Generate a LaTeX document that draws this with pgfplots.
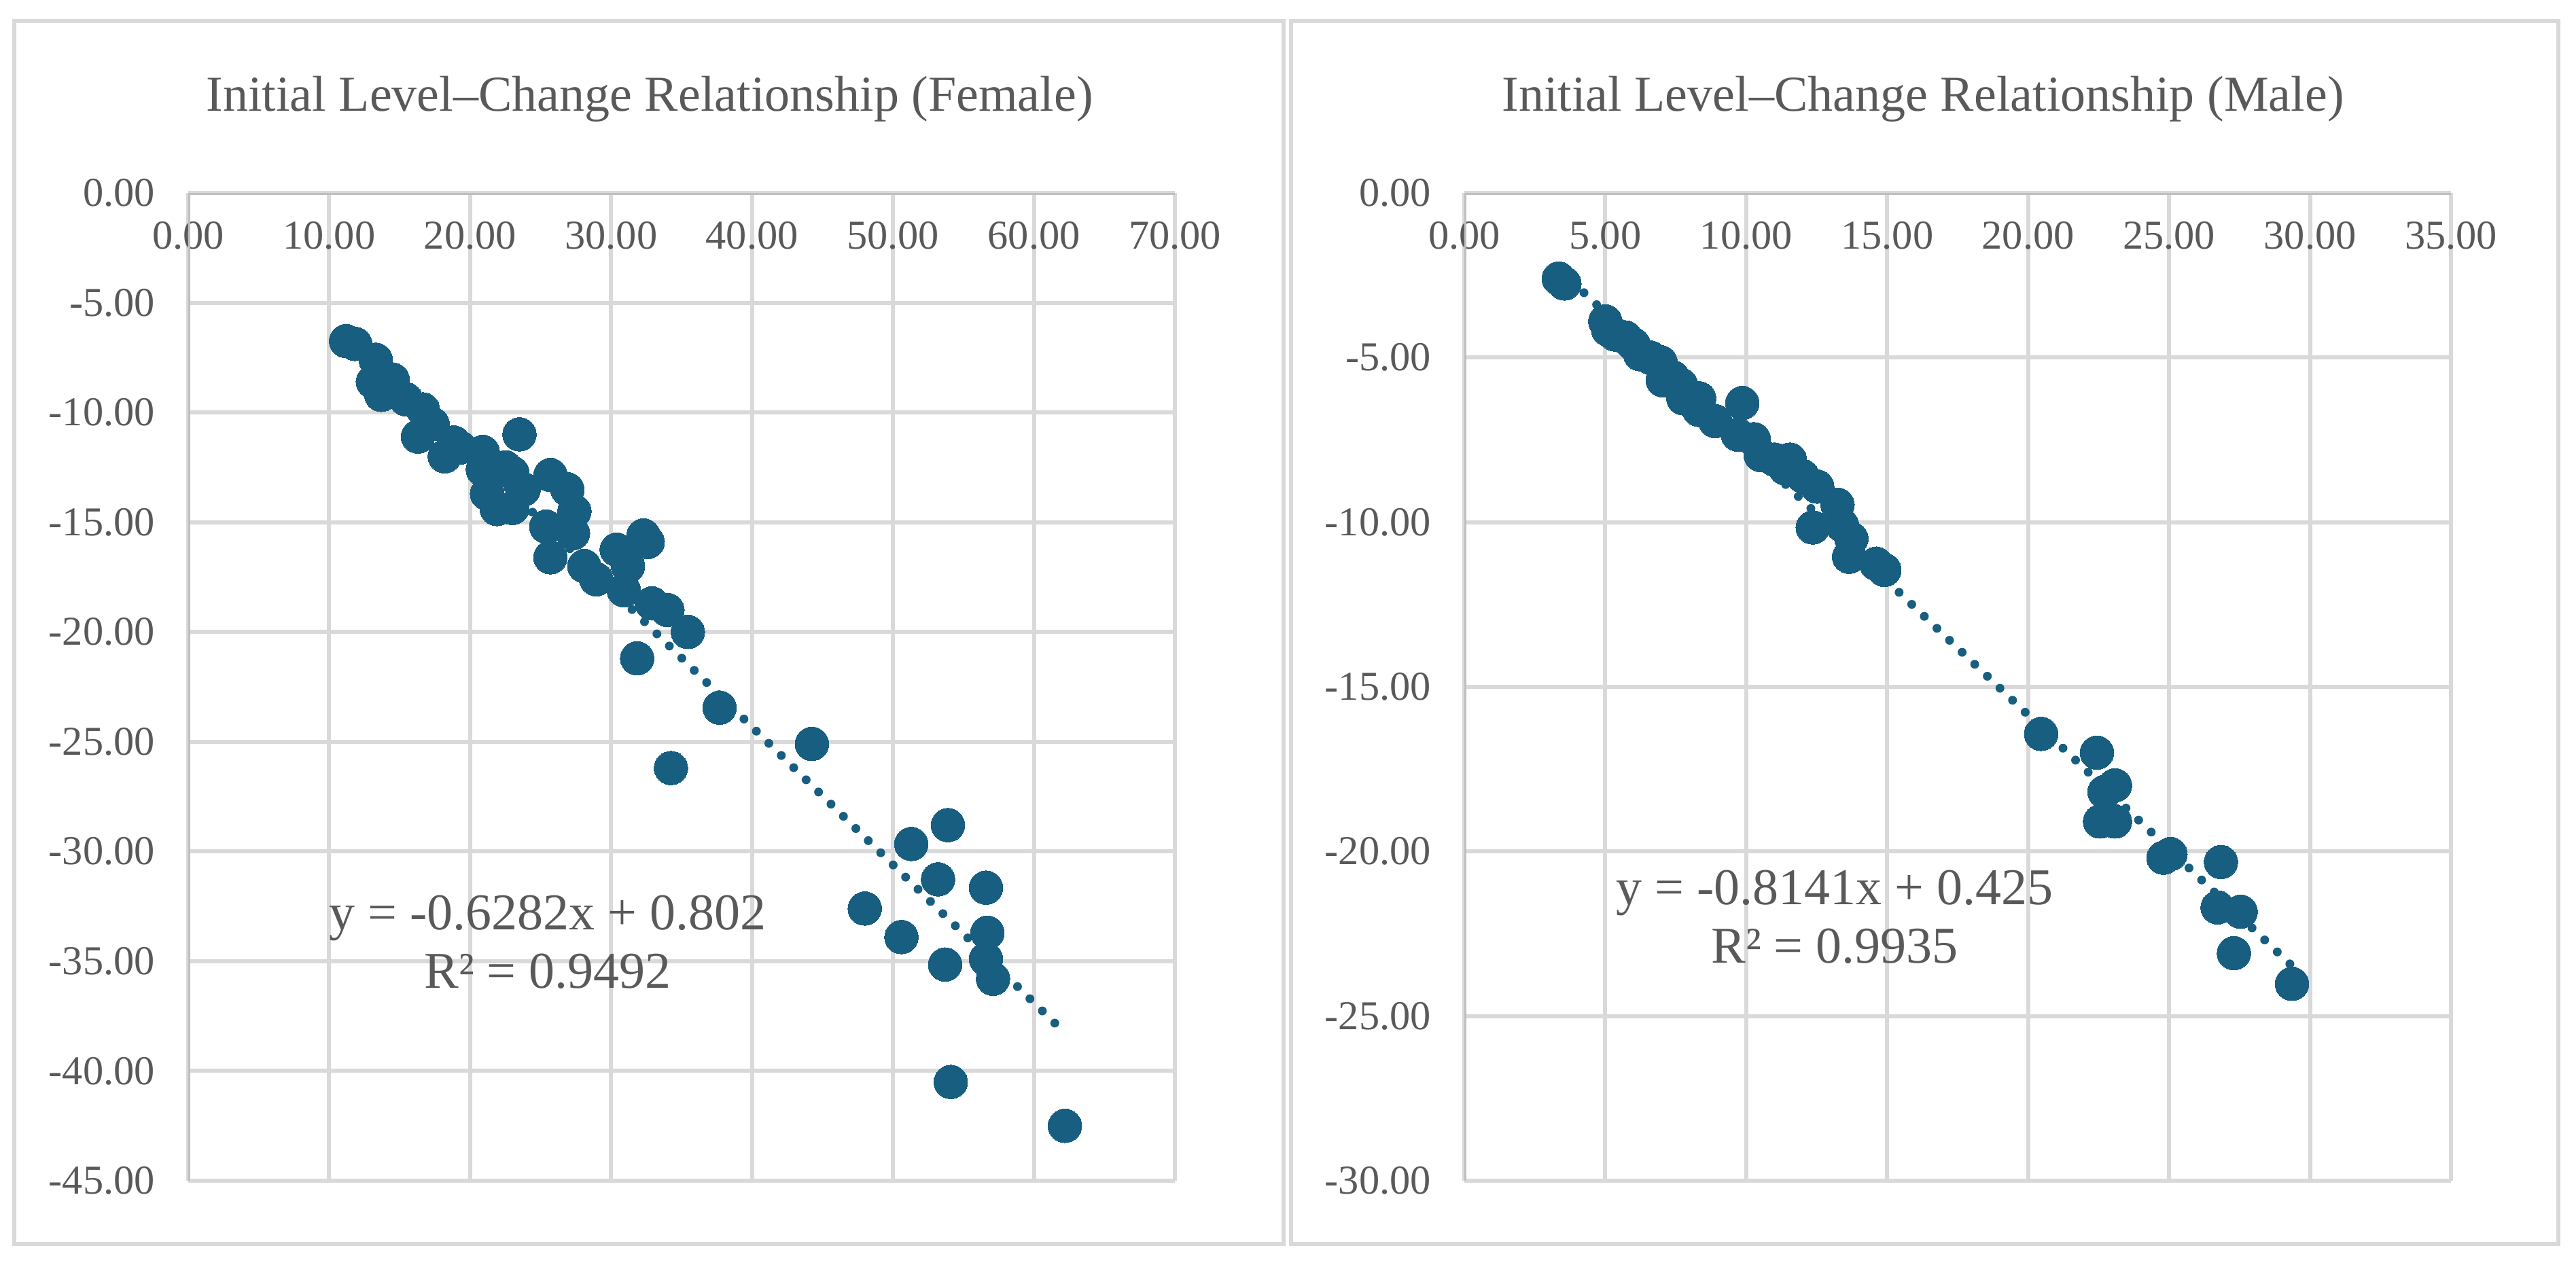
\documentclass[border=0pt]{standalone}
\usepackage{fontspec}
\setmainfont{Liberation Serif}
\usepackage{pgfplots}
\pgfplotsset{compat=1.18}
\definecolor{gridc}{HTML}{D9D9D9}
\definecolor{axisc}{HTML}{BFBFBF}
\definecolor{txt}{HTML}{595959}
\definecolor{mk}{HTML}{185E80}
\begin{document}
\begin{tikzpicture}
\pgfplotsset{
  panel/.style={
    scale only axis, width=363pt, height=363.5pt,
    anchor=south west,
    axis line style={draw=none},
    major tick length=0pt,
    grid=major,
    major grid style={gridc, line width=1.5pt},
    ticklabel style={font=\fontsize{15.1}{18}\selectfont, text=txt},
    xticklabel pos=upper,
    xticklabel style={anchor=north, yshift=-7pt},
    yticklabel style={anchor=east, xshift=-8.75pt},
  },
  trend/.style={mk, line width=3.25pt, line cap=round, dash pattern=on 0pt off 6.4pt, no marks},
  pts/.style={only marks, color=mk, mark=*, mark size=6.2pt, mark options={solid, draw=mk, fill=mk, line width=0pt}},
}
\draw[gridc, line width=1.5pt] (5.25pt,8.25pt) rectangle (472.25pt,458.25pt);
\draw[gridc, line width=1.5pt] (475pt,8.25pt) rectangle (941.25pt,458.25pt);

\node[anchor=base, text=txt, font=\fontsize{18.5}{22}\selectfont] at (239pt,425pt) {Initial Level–Change Relationship (Female)};
\node[anchor=base, text=txt, font=\fontsize{18.5}{22}\selectfont] at (707.5pt,425pt) {Initial Level–Change Relationship (Male)};

\begin{axis}[panel, at={(69.25pt,31.5pt)},
  xmin=0, xmax=70, ymin=-45, ymax=0,
  xtick={0,10,20,30,40,50,60,70},
  xticklabels={0.00,10.00,20.00,30.00,40.00,50.00,60.00,70.00},
  ytick={-45,-40,-35,-30,-25,-20,-15,-10,-5,0},
  yticklabels={-45.00,-40.00,-35.00,-30.00,-25.00,-20.00,-15.00,-10.00,-5.00,0.00}]
\addplot[trend] coordinates {(11.2,-6.234) (62.2,-38.27)};
\addplot[pts] coordinates {
(11.2,-6.75) (11.85,-6.88) (13.3,-7.6) (13.1,-8.6) (13.7,-9.2) (14.5,-8.5)
(15.45,-9.4) (16.65,-9.86) (16.3,-11.1) (17.34,-10.53) (18.85,-11.37) (18.2,-12.0)
(19.3,-11.6) (20.9,-11.8) (23.5,-11.0) (20.9,-12.6) (21.2,-13.7) (21.9,-14.4)
(22.5,-12.5) (23.0,-12.75) (23.0,-14.35) (23.8,-13.5) (25.7,-12.85) (26.9,-13.5)
(27.4,-14.5) (25.4,-15.2) (27.3,-15.5) (25.7,-16.6) (30.4,-16.25) (32.3,-15.6)
(32.6,-15.9) (28.1,-17.0) (28.95,-17.6) (31.2,-17.0) (30.9,-18.1) (32.9,-18.7)
(34.0,-19.0) (35.45,-20.0) (31.85,-21.2) (37.7,-23.45) (34.25,-26.2) (44.25,-25.1)
(53.9,-28.8) (51.3,-29.66) (53.2,-31.27) (56.6,-31.65) (48.0,-32.6) (50.6,-33.9)
(56.7,-33.7) (56.6,-34.9) (53.7,-35.15) (57.1,-35.8) (54.1,-40.5) (62.2,-42.5)
};
\draw[axisc, line width=1.5pt] (rel axis cs:0,0) -- (rel axis cs:0,1) -- (rel axis cs:1,1);
\end{axis}

\begin{axis}[panel, at={(538.75pt,31.5pt)},
  xmin=0, xmax=35, ymin=-30, ymax=0,
  xtick={0,5,10,15,20,25,30,35},
  xticklabels={0.00,5.00,10.00,15.00,20.00,25.00,30.00,35.00},
  ytick={-30,-25,-20,-15,-10,-5,0},
  yticklabels={-30.00,-25.00,-20.00,-15.00,-10.00,-5.00,0.00}]
\addplot[trend] coordinates {(3.35,-2.302) (29.36,-23.477)};
\addplot[pts] coordinates {
(3.35,-2.6) (3.55,-2.75) (5.0,-3.9) (5.1,-4.15) (5.35,-4.3) (5.72,-4.39)
(6.0,-4.6) (6.24,-4.9) (6.6,-5.0) (6.96,-5.14) (7.04,-5.69) (7.4,-5.6)
(7.69,-5.83) (7.77,-6.24) (8.33,-6.24) (8.33,-6.59) (8.9,-6.93) (9.86,-6.38)
(9.7,-7.34) (10.27,-7.48) (10.51,-7.96) (11.0,-8.1) (11.39,-8.37) (11.55,-8.1)
(12.0,-8.6) (12.52,-8.92) (12.36,-10.16) (13.24,-9.47) (13.4,-10.09) (13.73,-10.5)
(13.65,-11.05) (14.61,-11.26) (14.9,-11.45)
(20.46,-16.43) (22.44,-17.0) (23.08,-17.99) (22.71,-18.19) (22.55,-19.09) (23.08,-19.09)
(25.05,-20.08) (24.8,-20.19) (26.84,-20.32) (26.72,-21.7) (27.54,-21.83) (27.3,-23.09)
(29.36,-24.02)
};
\draw[axisc, line width=1.5pt] (rel axis cs:0,0) -- (rel axis cs:0,1) -- (rel axis cs:1,1);
\end{axis}

\node[anchor=base, text=txt, font=\fontsize{19}{22}\selectfont] at (201.5pt,123.75pt) {y = -0.6282x + 0.802};
\node[anchor=base, text=txt, font=\fontsize{19}{22}\selectfont] at (201.5pt,102.25pt) {R² = 0.9492};
\node[anchor=base, text=txt, font=\fontsize{19}{22}\selectfont] at (675pt,133pt) {y = -0.8141x + 0.425};
\node[anchor=base, text=txt, font=\fontsize{19}{22}\selectfont] at (675pt,111.5pt) {R² = 0.9935};

\pgfresetboundingbox
\useasboundingbox (0,0) rectangle (947.75pt,466pt);
\end{tikzpicture}
\end{document}
